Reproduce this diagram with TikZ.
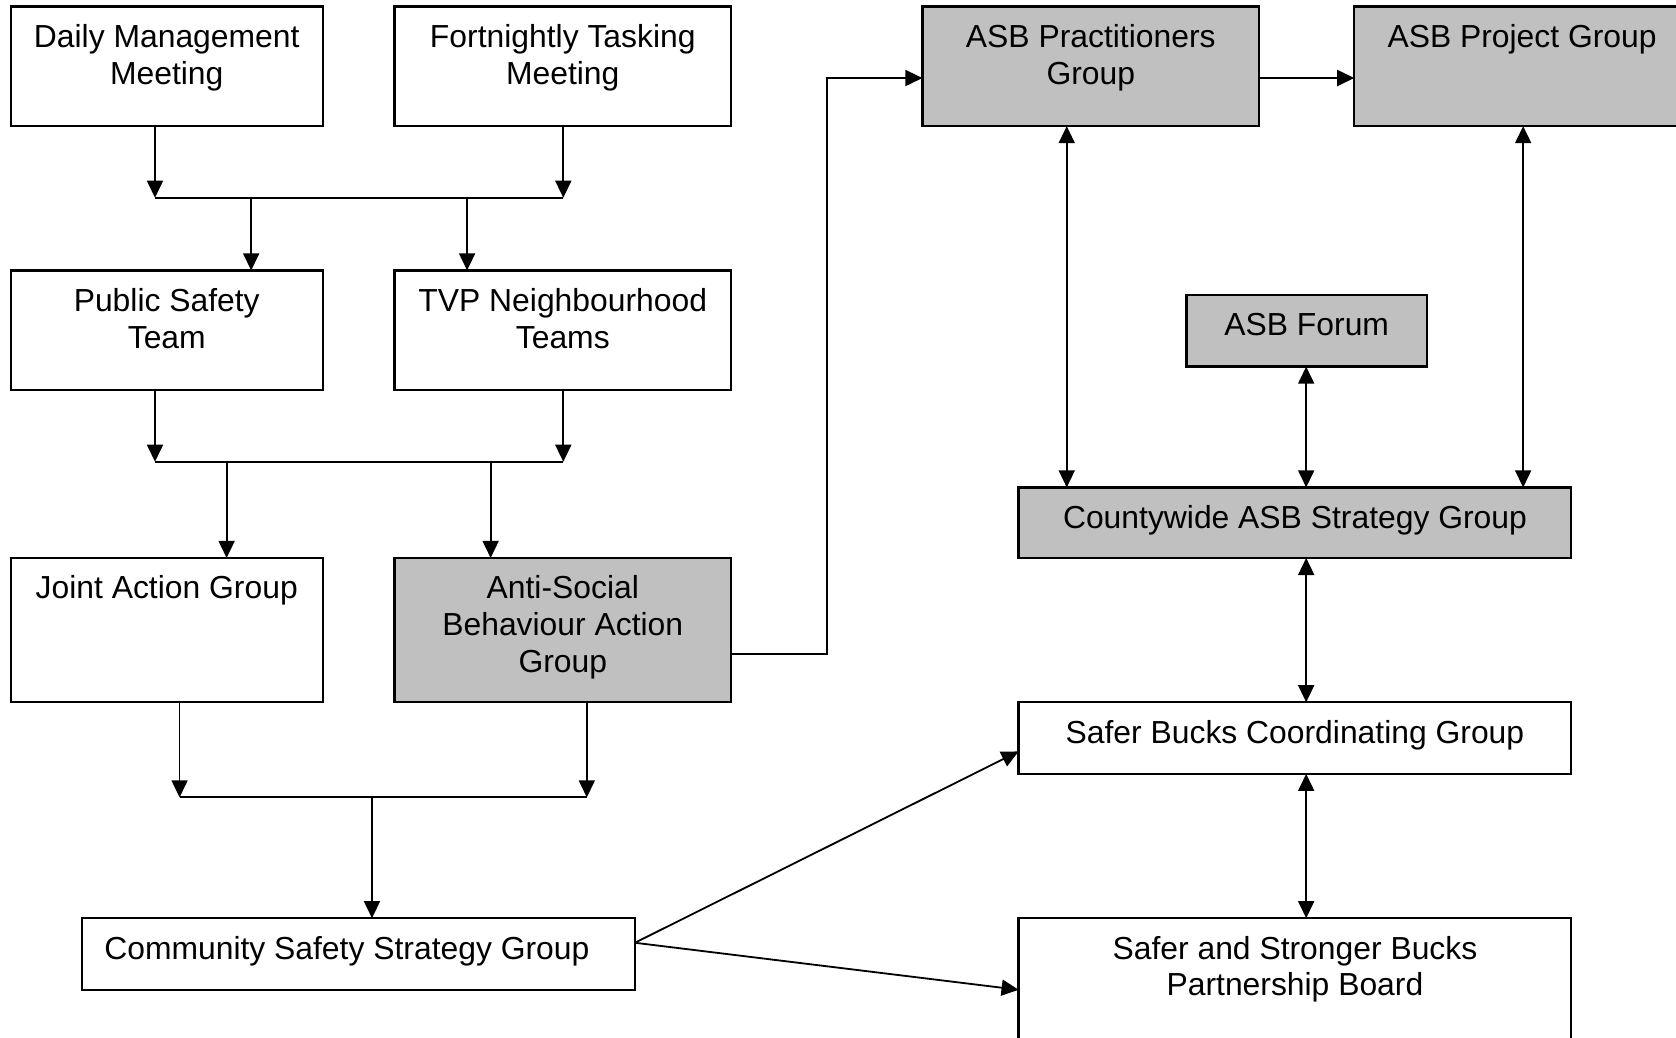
\documentclass[tikz,border=0pt]{standalone}
\usepackage{fontspec}
\setmainfont{Liberation Sans}
\usetikzlibrary{arrows.meta,calc}
\newcommand{\lblfont}{\fontsize{29.8}{34.5}\selectfont}
\definecolor{boxgray}{HTML}{C0C0C0}
\begin{document}
\begin{tikzpicture}[x=1pt,y=-1pt,
  box/.style={draw=black, line width=2.2pt, fill=white, rectangle, inner sep=0pt, outer sep=0pt},
  graybox/.style={box, fill=boxgray},
  lbl/.style={font=\lblfont, align=center, inner sep=0pt, anchor=north},
  conn/.style={draw=black, line width=1.7pt},
  arr/.style={conn, -{Triangle[length=16pt,width=15pt]}},
  darr/.style={conn, {Triangle[length=16pt,width=15pt]}-{Triangle[length=16pt,width=15pt]}}]
\useasboundingbox (0,0) rectangle (1568,971);
\clip (0,0) rectangle (1568,971);
\fill[white] (0,0) rectangle (1568,971);

% boxes
\node[box, minimum width=292pt, minimum height=112pt] (dmm) at (156,62) {};
\node[box, minimum width=315pt, minimum height=112pt] (ftm) at (526.5,62) {};
\node[graybox, minimum width=315pt, minimum height=112pt] (apg) at (1020.5,62) {};
\node[graybox, minimum width=314pt, minimum height=112pt] (aprj) at (1424,62) {};
\node[box, minimum width=292pt, minimum height=112pt] (pst) at (156,309) {};
\node[box, minimum width=315pt, minimum height=112pt] (tvp) at (526.5,309) {};
\node[graybox, minimum width=225pt, minimum height=67pt] (forum) at (1222.5,309.5) {};
\node[graybox, minimum width=517pt, minimum height=66pt] (cw) at (1211.5,489) {};
\node[box, minimum width=292pt, minimum height=135pt] (jag) at (156,589.5) {};
\node[graybox, minimum width=315pt, minimum height=135pt] (asbag) at (526.5,589.5) {};
\node[box, minimum width=517pt, minimum height=67pt] (sbcg) at (1211.5,690.5) {};
\node[box, minimum width=517pt, minimum height=67pt] (cssg) at (335.5,892.5) {};
\node[box, minimum width=517pt, minimum height=140pt] (ssb) at (1211.5,929) {};

% labels
\node[lbl] (tdmm) at ([yshift=-16.5pt]dmm.north) {Daily Management\\Meeting};
\node[lbl] (tftm) at ([yshift=-16.5pt]ftm.north) {Fortnightly Tasking\\Meeting};
\node[lbl] (tapg) at ([yshift=-16.5pt]apg.north) {ASB Practitioners\\Group};
\node[lbl] (taprj) at ([yshift=-16.5pt]aprj.north) {ASB Project Group};
\node[lbl] (tpst) at ([yshift=-16.5pt]pst.north) {Public Safety\\Team};
\node[lbl] (ttvp) at ([yshift=-16.5pt]tvp.north) {TVP Neighbourhood\\Teams};
\node[lbl] (tforum) at ([yshift=-16.5pt]forum.north) {ASB Forum};
\node[lbl] (tcw) at ([yshift=-16.5pt]cw.north) {Countywide ASB Strategy Group};
\node[lbl] (tjag) at ([yshift=-16.5pt]jag.north) {Joint Action Group};
\node[lbl] (tasbag) at ([yshift=-16.5pt]asbag.north) {Anti-Social\\Behaviour Action\\Group};
\node[lbl] (tsbcg) at ([yshift=-16.5pt]sbcg.north) {Safer Bucks Coordinating Group};
\node[lbl] (tcssg) at ([xshift=-11pt,yshift=-16.5pt]cssg.north) {Community Safety Strategy Group};
\node[lbl] (tssb) at ([yshift=-16.5pt]ssb.north) {Safer and Stronger Bucks\\Partnership Board};

% junction 1
\coordinate (j1a) at (145,185);
\coordinate (j1b) at (527,185);
\coordinate (j1c) at (235,185);
\coordinate (j1d) at (437,185);
\draw[arr] (dmm.south -| j1a) -- (j1a);
\draw[arr] (ftm.south -| j1b) -- (j1b);
\draw[conn] (j1a) -- (j1b);
\draw[arr] (j1c) -- (pst.north -| j1c);
\draw[arr] (j1d) -- (tvp.north -| j1d);

% junction 2
\coordinate (j2a) at (145,432);
\coordinate (j2b) at (527,432);
\coordinate (j2c) at (212,432);
\coordinate (j2d) at (459,432);
\draw[arr] (pst.south -| j2a) -- (j2a);
\draw[arr] (tvp.south -| j2b) -- (j2b);
\draw[conn] (j2a) -- (j2b);
\draw[arr] (j2c) -- (jag.north -| j2c);
\draw[arr] (j2d) -- (asbag.north -| j2d);

% junction 3
\coordinate (j3a) at (168,746);
\coordinate (j3b) at (549,746);
\coordinate (j3c) at (348,746);
\draw[arr] (jag.south -| j3a) -- (j3a);
\draw[arr] (asbag.south -| j3b) -- (j3b);
\draw[conn] (j3a) -- (j3b);
\draw[arr] (j3c) -- (cssg.north -| j3c);

% ASB action group to practitioners
\coordinate (bend1) at (774,612);
\coordinate (bend2) at (774,73);
\draw[arr] (asbag.east |- bend1) -- (bend1) -- (bend2) -- (apg.west |- bend2);
\draw[arr] (apg.east |- bend2) -- (aprj.west |- bend2);

% double arrows
\coordinate (xa) at (998,0);
\coordinate (xf) at (1222,0);
\coordinate (xp) at (1425,0);
\draw[darr] (apg.south -| xa) -- (cw.north -| xa);
\draw[darr] (forum.south -| xf) -- (cw.north -| xf);
\draw[darr] (aprj.south -| xp) -- (cw.north -| xp);
\draw[darr] (cw.south -| xf) -- (sbcg.north -| xf);
\draw[darr] (sbcg.south -| xf) -- (ssb.north -| xf);

% diagonals
\coordinate (cso) at (594,882);
\coordinate (sbin) at (953,703);
\coordinate (ssin) at (953,926);
\draw[arr] (cso) -- (sbcg.west |- sbin);
\draw[arr] (cso) -- (ssb.west |- ssin);
\end{tikzpicture}
\end{document}
